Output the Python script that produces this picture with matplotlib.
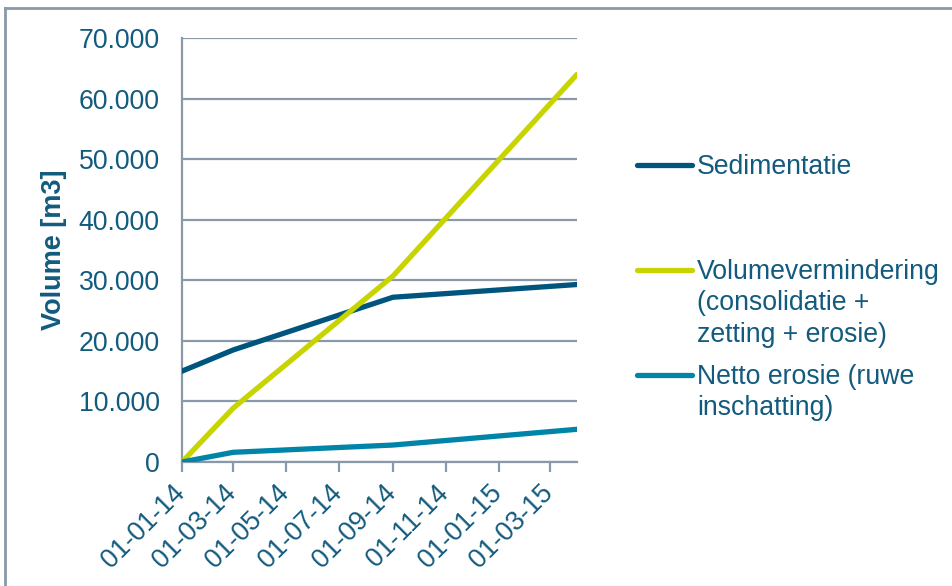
import matplotlib
matplotlib.use("Agg")
import matplotlib.pyplot as plt
import matplotlib.dates as mdates
import matplotlib.transforms as mtransforms
from matplotlib.lines import Line2D
from matplotlib.ticker import FuncFormatter
import numpy as np
import datetime as dt

plt.rcParams['font.family'] = ['Liberation Sans', 'DejaVu Sans']

# Measurement dates and cumulative volumes [m3]
dates = [dt.date(2014, 1, 1), dt.date(2014, 3, 1), dt.date(2014, 9, 1), dt.date(2015, 4, 1)]
sedimentatie = [15000, 18500, 27200, 29300]
volumevermindering = [0, 8900, 30700, 64000]
netto_erosie = [0, 1600, 2800, 5400]

series_labels = ["Sedimentatie",
                 "Volumevermindering\n(consolidatie +\nzetting + erosie)",
                 "Netto erosie (ruwe\ninschatting)"]
series_colors = ["#00557f", "#c8d400", "#0085a8"]

tick_dates = [dt.date(2014, m, 1) for m in (1, 3, 5, 7, 9, 11)] + [dt.date(2015, m, 1) for m in (1, 3)]
y_ticks = np.arange(0, 70001, 10000)

text_color = "#135b7e"
grid_color = "#8a99a9"
font_size = 19.2

fig = plt.figure(figsize=(9.53, 5.86), dpi=100)
ax = fig.add_axes([182 / 953, 1 - 462 / 586, (577 - 182) / 953, (462 - 38) / 586])

for values, color in zip([sedimentatie, volumevermindering, netto_erosie], series_colors):
    ax.plot(dates, values, color=color, lw=3.8, solid_capstyle='round', solid_joinstyle='round', zorder=3)

ax.set_xlim(dates[0], dates[-1])
ax.set_ylim(0, 70000)
ax.set_yticks(y_ticks)
ax.yaxis.set_major_formatter(FuncFormatter(lambda v, p: f"{int(v):,}".replace(",", ".")))
ax.set_xticks(tick_dates)
ax.xaxis.set_major_formatter(mdates.DateFormatter("%d-%m-%y"))

ax.grid(axis='y', color=grid_color, lw=1.6)
ax.set_axisbelow(True)
for side in ('top', 'right'):
    ax.spines[side].set_visible(False)
for side in ('left', 'bottom'):
    ax.spines[side].set_color(grid_color)
    ax.spines[side].set_linewidth(1.6)

ax.tick_params(axis='y', length=0, pad=16, labelsize=font_size, labelcolor=text_color)
ax.tick_params(axis='x', length=7, width=1.6, color=grid_color, direction='out',
               pad=6, labelsize=font_size, labelcolor=text_color)
shift = mtransforms.ScaledTranslation(8 / 100, 0, fig.dpi_scale_trans)
for lbl in ax.get_xticklabels():
    lbl.set_rotation(45)
    lbl.set_ha('right')
    lbl.set_va('top')
    lbl.set_transform(lbl.get_transform() + shift)

ax.set_ylabel("Volume [m3]", fontsize=19.5, fontweight='bold', color=text_color)
ax.yaxis.set_label_coords((67 - 182) / 395, 0.5)

# Legend drawn beside the plot area, one entry per series
W, H = 953, 586
legend_rows = [165, 270, 375]
for label, color, y in zip(series_labels, series_colors, legend_rows):
    fig.add_artist(Line2D([637 / W, 692 / W], [1 - y / H, 1 - y / H], color=color, lw=3.8,
                          solid_capstyle='round'))
    fig.text(697 / W, 1 - (y - 11) / H, label, fontsize=font_size, color=text_color,
             ha='left', va='top', linespacing=1.27)

# Chart frame (top and left edges visible)
fig.add_artist(Line2D([5 / W, 1.0], [1 - 8 / H, 1 - 8 / H], color=grid_color, lw=2))
fig.add_artist(Line2D([5 / W, 5 / W], [0, 1 - 8 / H], color=grid_color, lw=2))

fig.savefig("out.png", dpi=100)
